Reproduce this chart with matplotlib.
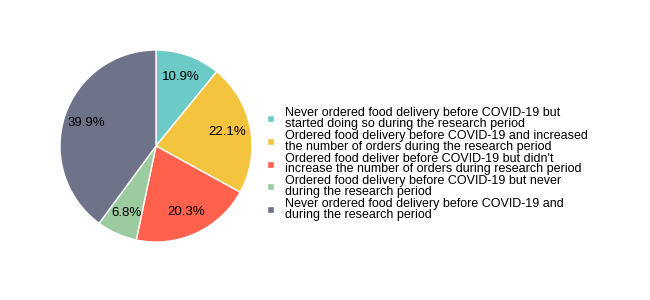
import matplotlib.pyplot as plt

plt.rcParams['font.family'] = ['Liberation Sans', 'DejaVu Sans']

values = [10.9, 22.1, 20.3, 6.8, 39.9]
labels = [
    'Never ordered food delivery before COVID-19 but\nstarted doing so during the research period',
    'Ordered food delivery before COVID-19 and increased\nthe number of orders during the research period',
    "Ordered food deliver before COVID-19 but didn't\nincrease the number of orders during research period",
    'Ordered food delivery before COVID-19 but never\nduring the research period',
    'Never ordered food delivery before COVID-19 and\nduring the research period',
]
colors = ['#6ccbc6', '#f5c43e', '#ff614d', '#9bcb9e', '#6f7389']

fig = plt.figure(figsize=(6.5, 3), dpi=100)
ax = fig.add_axes([60 / 650, 58 / 300, 192 / 650, 192 / 300])

wedges, texts, autotexts = ax.pie(
    values, colors=colors, startangle=90, counterclock=False,
    autopct='%.1f%%', pctdistance=0.76,
    wedgeprops=dict(edgecolor='white', linewidth=1),
    textprops=dict(fontsize=9.5, color='black'))
ax.set_xlim(-1, 1)
ax.set_ylim(-1, 1)
ax.set_aspect('equal')

leg = fig.legend(wedges, labels, loc='center left',
                 bbox_to_anchor=(261 / 650, 1 - 164 / 300),
                 frameon=False, fontsize=9, labelspacing=0.0,
                 handlelength=0.5, handleheight=0.5, handletextpad=0.9,
                 borderpad=0)
for t in leg.get_texts():
    t.set_linespacing(0.87)

plt.savefig('out.png', dpi=100)
plt.close()
